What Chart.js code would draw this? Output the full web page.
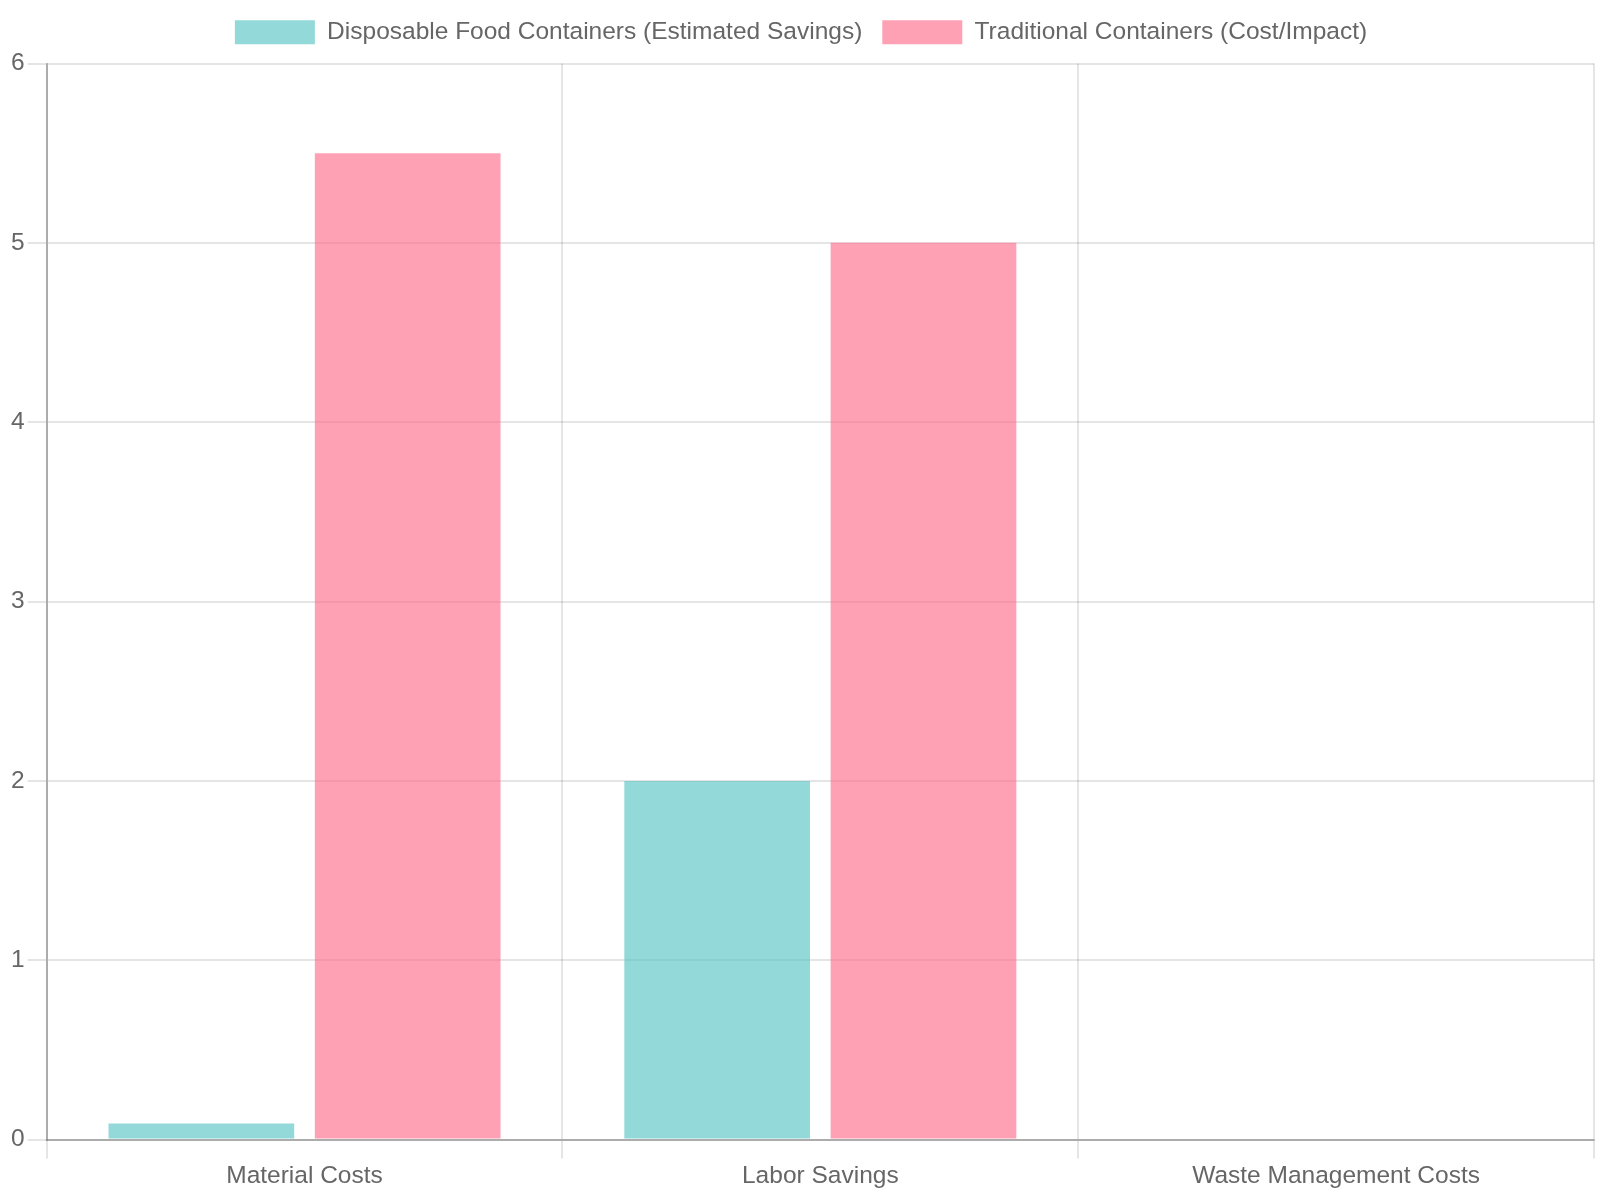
<!DOCTYPE html>
<html>
<head>
<meta charset="utf-8">
<script src="https://cdn.jsdelivr.net/npm/chart.js@4/dist/chart.umd.min.js"></script>
<style>
  html, body { margin: 0; padding: 0; background: #fff; }
  #wrap { width: 1600px; height: 1200px; }
</style>
</head>
<body>
<div id="wrap"><canvas id="chart"></canvas></div>
<script>
const categories = ["Material Costs", "Labor Savings", "Waste Management Costs"];
const disposableSavings = [0.09, 2, 0];
const traditionalCost = [5.5, 5, 0];

Chart.defaults.font.size = 24.5;

// a bit more room between legend and plot area
const legendGap = {
  id: "legendGap",
  beforeInit(chart) {
    const fit = chart.legend.fit;
    chart.legend.fit = function () {
      fit.bind(chart.legend)();
      this.height += 9;
    };
  },
};

const ctx = document.getElementById("chart").getContext("2d");
new Chart(ctx, {
  type: "bar",
  data: {
    labels: categories,
    datasets: [
      {
        label: "Disposable Food Containers (Estimated Savings)",
        data: disposableSavings,
        backgroundColor: "rgba(75, 192, 192, 0.6)",
      },
      {
        label: "Traditional Containers (Cost/Impact)",
        data: traditionalCost,
        backgroundColor: "rgba(255, 99, 132, 0.6)",
      },
    ],
  },
  options: {
    responsive: true,
    maintainAspectRatio: false,
    animation: false,
    layout: { padding: { left: 8, right: 6, bottom: 6 } },
    plugins: {
      legend: {
        position: "top",
        labels: { boxWidth: 80, boxHeight: 24, padding: 20 },
      },
    },
    scales: {
      x: {
        grid: { lineWidth: 2, tickLength: 19 },
        border: { width: 2, color: "rgba(0,0,0,0.25)" },
        ticks: { padding: 3 },
      },
      y: {
        beginAtZero: true,
        grid: { lineWidth: 2, tickLength: 19 },
        border: { width: 2, color: "rgba(0,0,0,0.25)" },
        ticks: { padding: 3 },
      },
    },
  },
  plugins: [legendGap],
});
</script>
</body>
</html>
